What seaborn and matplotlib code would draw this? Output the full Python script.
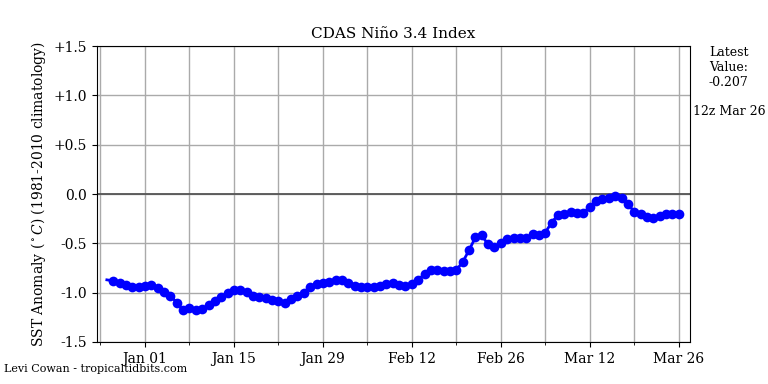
import pandas as pd
import numpy as np
import matplotlib
matplotlib.use("Agg")
import matplotlib.pyplot as plt
import matplotlib.dates as mdates
import seaborn as sns

# daily index values, Dec 26 2024 -> Mar 26 2025
start = "2024-12-26"
nino34 = [-0.87, -0.88, -0.90, -0.92, -0.94, -0.94, -0.93, -0.92, -0.95, -0.99,
          -1.03, -1.10, -1.18, -1.16, -1.18, -1.17, -1.13, -1.08, -1.04, -1.00,
          -0.97, -0.97, -0.99, -1.03, -1.04, -1.05, -1.07, -1.08, -1.10, -1.06,
          -1.03, -1.00, -0.94, -0.91, -0.90, -0.89, -0.87, -0.87, -0.90, -0.93,
          -0.94, -0.94, -0.94, -0.93, -0.91, -0.90, -0.92, -0.93, -0.91, -0.87,
          -0.81, -0.77, -0.77, -0.78, -0.78, -0.77, -0.69, -0.57, -0.44, -0.42,
          -0.51, -0.54, -0.50, -0.46, -0.45, -0.45, -0.45, -0.41, -0.42, -0.39,
          -0.29, -0.21, -0.20, -0.18, -0.19, -0.19, -0.13, -0.07, -0.05, -0.04,
          -0.02, -0.04, -0.10, -0.18, -0.20, -0.23, -0.24, -0.22, -0.20, -0.20,
          -0.207]
yticks = [-1.5, -1.0, -0.5, 0.0, 0.5, 1.0, 1.5]
ylabels = ["-1.5", "-1.0", "-0.5", "0.0", "+0.5", "+1.0", "+1.5"]

df = pd.DataFrame({"date": pd.date_range(start, periods=len(nino34), freq="D"),
                   "val": nino34})

plt.rcParams["font.family"] = ["DejaVu Serif"]
plt.rcParams["mathtext.fontset"] = "dejavuserif"

fig = plt.figure(figsize=(7.68, 3.84), dpi=100)
ax = fig.add_axes([0.1263, 0.1094, 0.7715, 0.7706])

ax.axhline(0, color="#555555", lw=1.3, zorder=2)
sns.lineplot(data=df, x="date", y="val", ax=ax, color="blue", lw=2,
             marker="o", markersize=7, markeredgewidth=0,
             markevery=slice(1, None), zorder=3)

# labelled ticks every two weeks, grid every week
major = pd.date_range("2025-01-01", periods=7, freq="14D")
minor = pd.date_range("2024-12-25", periods=14, freq="7D")
ax.set_xticks(major)
ax.set_xticks(minor, minor=True)
ax.xaxis.set_major_formatter(mdates.DateFormatter("%b %d"))

x0 = pd.Timestamp("2025-01-01")
ax.set_xlim(x0 - pd.Timedelta(days=7.55), x0 + pd.Timedelta(days=85.7))
ax.set_ylim(-1.5, 1.5)
ax.set_yticks(yticks)
ax.set_yticklabels(ylabels)

ax.grid(True, which="both", axis="x", color="#aaaaaa", lw=1)
ax.grid(True, which="major", axis="y", color="#aaaaaa", lw=1)
ax.tick_params(labelsize=10)
for s in ax.spines.values():
    s.set_color("black")

ax.set_xlabel("")
ax.set_ylabel(r"SST Anomaly ($^\circ C$) (1981-2010 climatology)", fontsize=10)
ax.set_title("CDAS Niño 3.4 Index", fontsize=11)

fig.text(0.949, 0.88, "Latest\nValue:\n%.3f" % nino34[-1], ha="center", va="top",
         fontsize=9)
fig.text(0.949, 0.71, "12z Mar 26", ha="center", va="center", fontsize=9)
fig.text(0.005, 0.038, "Levi Cowan - tropicaltidbits.com", fontsize=8, va="center")

fig.savefig("out.png", dpi=100)
